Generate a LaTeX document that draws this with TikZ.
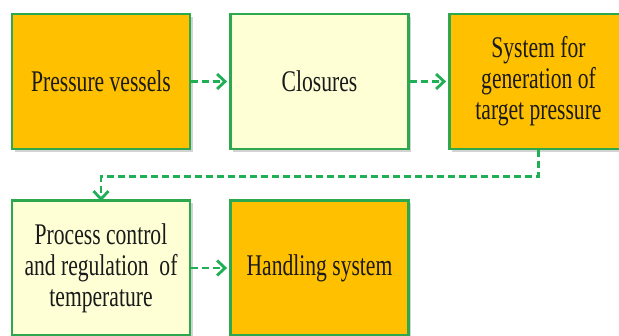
\documentclass[tikz,border=0pt]{standalone}
\usepackage{fontspec}
\setmainfont{Liberation Serif}[FakeStretch=0.72]
\usetikzlibrary{arrows.meta,shadows,calc}
\definecolor{boxgreen}{HTML}{2EA84F}
\definecolor{flowgreen}{HTML}{1FAF55}
\definecolor{amber}{HTML}{FFC000}
\definecolor{cream}{HTML}{FFFFD6}
\definecolor{ink}{HTML}{1A1A1A}
\tikzset{
  stagebox/.style={draw=boxgreen, line width=2.8pt, minimum width=178pt, minimum height=135pt,
    inner sep=0pt, align=center, text=ink,
    font=\fontsize{30}{31}\selectfont,
    drop shadow={shadow xshift=2.5pt, shadow yshift=-3pt, opacity=0.35, fill=gray}},
  hot/.style={stagebox, fill=amber},
  mild/.style={stagebox, fill=cream},
  flow/.style={draw=flowgreen, line width=2.8pt, dash pattern=on 7pt off 4pt,
    -{Straight Barb[length=8pt,width=15pt,line width=2.8pt]}}
}
\begin{document}
\begin{tikzpicture}[x=1pt,y=-1pt]
  \useasboundingbox (0,0) rectangle (619,336);
  \node[hot]  (vessels)  at (101,81.5)  {Pressure vessels};
  \node[mild] (closures) at (319.5,81.5) {Closures};
  \node[hot]  (target)   at (538.5,81.5) {System for\\generation of\\target pressure};
  \node[mild] (control)  at (101,268)   {Process control\\and regulation~ of\\temperature};
  \node[hot]  (handling) at (319.5,268) {Handling system};

  \coordinate (turn) at ($(target.south)+(0,26)$);
  \draw[flow] (vessels.east) -- ++(1,0) -- ([xshift=-2pt]closures.west);
  \draw[flow] (closures.east) -- ++(1,0) -- ([xshift=-2pt]target.west);
  \draw[flow] (target.south) -- (turn) -| ([yshift=-2pt]control.north);
  \draw[flow] (control.east) -- ++(1,0) -- ([xshift=-2pt]handling.west);
\end{tikzpicture}
\end{document}
